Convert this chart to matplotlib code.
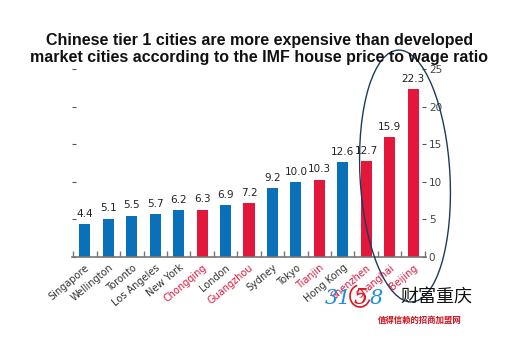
import matplotlib
matplotlib.use("Agg")
from matplotlib import pyplot as plt
from matplotlib.patches import Ellipse, Arc
import numpy as np

cities = ["Singapore", "Wellington", "Toronto", "Los Angeles", "New York",
          "Chongqing", "London", "Guangzhou", "Sydney", "Tokyo", "Tianjin",
          "Hong Kong", "Shenzhen", "Shanghai", "Beijing"]
ratios = [4.4, 5.1, 5.5, 5.7, 6.2, 6.3, 6.9, 7.2, 9.2, 10.0, 10.3, 12.6, 12.7, 15.9, 22.3]
chinese = [False, False, False, False, False, True, False, True, False, False, True,
           False, True, True, True]
y_ticks = [0, 5, 10, 15, 20, 25]

BLUE = "#0a70ba"
RED = "#e2173b"
LABEL_DARK = "#333333"
COND = ['DejaVu Sans Condensed', 'DejaVu Sans']

plt.rcParams['font.family'] = ['Liberation Sans', 'DejaVu Sans']

fig = plt.figure(figsize=(5.19, 3.52), dpi=100)
ax = fig.add_axes([72 / 519, 1 - 257 / 352, (426 - 72) / 519, (257 - 69) / 352])

x = np.arange(len(cities))
colors = [RED if c else BLUE for c in chinese]
ax.bar(x, ratios, width=0.47, color=colors)

for xi, v in zip(x, ratios):
    ax.text(xi, v + 0.7, f"{v:.1f}", ha="center", va="bottom", fontsize=7.5,
            color="#222222", family=COND)

ax.set_xlim(-0.55, len(cities) - 0.45)
ax.set_ylim(0, 25)

for s in ["top", "left", "right"]:
    ax.spines[s].set_visible(False)
ax.spines["bottom"].set_color("#777777")
ax.spines["bottom"].set_linewidth(1.2)

ax.set_xticks(x)
ax.set_xticklabels(cities, rotation=40, ha="right", rotation_mode="anchor",
                   fontsize=7, family=COND)
for lbl, c in zip(ax.get_xticklabels(), chinese):
    lbl.set_color(RED if c else LABEL_DARK)
ax.tick_params(axis="x", length=0, pad=4)
ax.set_xticks(np.arange(-0.5, len(cities), 1.0), minor=True)
ax.tick_params(axis="x", which="minor", direction="in", length=4, color="#777777", width=1)

ax.set_yticks(y_ticks)
ax.tick_params(axis="y", direction="in", length=3, color="#555555",
               left=True, right=True, labelleft=False, labelright=True,
               labelsize=7.5, labelcolor="#444444", pad=2)
for lbl in ax.get_yticklabels():
    lbl.set_family(COND)

fig.text(0.5, 1 - 49 / 352, "Chinese tier 1 cities are more expensive than developed\n"
         "market cities according to the IMF house price to wage ratio",
         ha="center", va="center", fontsize=11.5, fontweight="bold",
         linespacing=1.2, color="#111111")

ell = Ellipse((405 / 519, 1 - 176 / 352), 90 / 519, 252 / 352, angle=2,
              transform=fig.transFigure, fill=False, edgecolor="#1f3a5f", linewidth=1)
fig.add_artist(ell)

# watermark logo
fig.text(325 / 519, 1 - 298 / 352, "31", fontsize=15, style="italic",
         color="#1f8fd6", family="DejaVu Serif", va="center")
fig.text(354 / 519, 1 - 298 / 352, "5", fontsize=16, style="italic",
         color="#e0161b", family="DejaVu Serif", va="center")
ring = Arc((360 / 519, 1 - 296 / 352), 20 / 519, 22 / 352, theta1=100, theta2=330,
           transform=fig.transFigure, edgecolor="#e0161b", linewidth=1.2)
fig.add_artist(ring)
fig.text(370 / 519, 1 - 298 / 352, "8", fontsize=15, style="italic",
         color="#1f8fd6", family="DejaVu Serif", va="center")
fig.text(400 / 519, 1 - 298 / 352, "财富重庆", fontsize=13, color="#111111",
         family=['Noto Sans CJK SC'], va="center")
fig.text(378 / 519, 1 - 320 / 352, "值得信赖的招商加盟网", fontsize=6, color="#d0101a",
         family=['Noto Sans CJK SC'], fontweight="bold", va="center")

fig.savefig("out.png", dpi=100)
